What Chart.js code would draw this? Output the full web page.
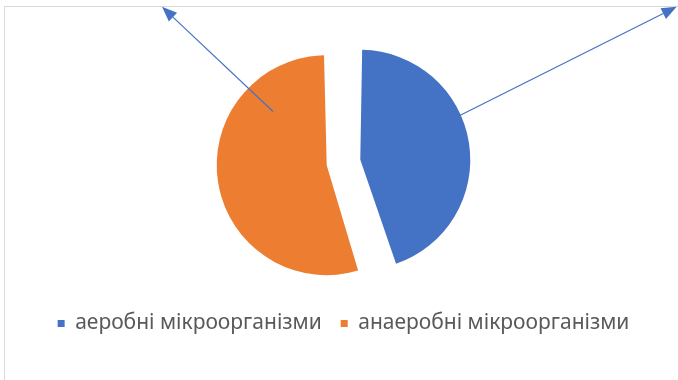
<!DOCTYPE html>
<html>
<head>
<meta charset="utf-8">
<script src="https://cdn.jsdelivr.net/npm/chart.js@4"></script>
<style>
  html, body { margin: 0; padding: 0; background: #fff; }
  #wrap { position: relative; width: 678px; height: 380px; overflow: hidden; }
  #frame { position: absolute; left: 4px; top: 6px; width: 700px; height: 400px;
           border-top: 1px solid #d9d9d9; border-left: 1px solid #d9d9d9; }
  #chart { position: absolute; left: 0; top: 0; }
</style>
</head>
<body>
<div id="wrap">
  <div id="frame"></div>
  <canvas id="chart" width="678" height="380"></canvas>
</div>
<script>
// Data
const labels = ['аеробні мікроорганізми', 'анаеробні мікроорганізми'];
const values = [45, 55];
const colors = ['#4472C4', '#ED7D31'];

// leader arrows (label boxes sit outside the plot, only the arrows remain)
// anchor: angle (deg, canvas) and distance as share of radius from slice vertex
// target: share of canvas width/height
const arrowAnchorAngle = [-24, -135];
const arrowAnchorDist = [0.99, 0.69];
const arrowTargetX = [0.998, 0.239];
const arrowTargetY = [0.018, 0.018];

const PIE_RADIUS = 110;
const EXPLODE = 68; // chart.js moves each slice by offset/4

// keep both slices at same radius (chart.js grows the smaller one by offset)
const evenRadius = {
    id: 'evenRadius',
    beforeDatasetDraw(chart) {
        chart.getDatasetMeta(0).data.forEach(el => {
            const off = (el.options.offset || 0) / 4;
            const fix = 1 - Math.sin(Math.min(Math.PI, el.circumference));
            el.outerRadius = PIE_RADIUS - off * fix;
        });
    }
};

const arrows = {
    id: 'arrows',
    afterDraw(chart) {
        const ctx = chart.ctx;
        const meta = chart.getDatasetMeta(0);
        meta.data.forEach((el, i) => {
            const off = (el.options.offset || 0) / 4;
            const half = (el.startAngle + el.endAngle) / 2;
            const vx = el.x + Math.cos(half) * off;
            const vy = el.y + Math.sin(half) * off;
            const a = arrowAnchorAngle[i] * Math.PI / 180;
            const sx = vx + Math.cos(a) * PIE_RADIUS * arrowAnchorDist[i];
            const sy = vy + Math.sin(a) * PIE_RADIUS * arrowAnchorDist[i];
            const tx = chart.width * arrowTargetX[i];
            const ty = chart.height * arrowTargetY[i];
            const ang = Math.atan2(ty - sy, tx - sx);
            const len = 15, wid = 6;
            const bx = tx - Math.cos(ang) * len;
            const by = ty - Math.sin(ang) * len;

            ctx.save();
            ctx.strokeStyle = '#4472C4';
            ctx.fillStyle = '#4472C4';
            ctx.lineWidth = 1.2;
            ctx.beginPath();
            ctx.moveTo(sx, sy);
            ctx.lineTo(bx, by);
            ctx.stroke();
            ctx.beginPath();
            ctx.moveTo(tx, ty);
            ctx.lineTo(bx + Math.sin(ang) * wid, by - Math.cos(ang) * wid);
            ctx.lineTo(bx - Math.sin(ang) * wid, by + Math.cos(ang) * wid);
            ctx.closePath();
            ctx.fill();
            ctx.restore();
        });
    }
};

new Chart(document.getElementById('chart'), {
    type: 'pie',
    data: {
        labels: labels,
        datasets: [{
            data: values,
            backgroundColor: colors,
            borderWidth: 0,
            offset: EXPLODE,
            hoverOffset: 0
        }]
    },
    options: {
        responsive: false,
        animation: false,
        radius: PIE_RADIUS,
        layout: { padding: { left: 9, right: 0, top: 31, bottom: 36 } },
        plugins: {
            tooltip: { enabled: false },
            legend: {
                position: 'bottom',
                labels: {
                    boxWidth: 7,
                    boxHeight: 7,
                    padding: 19,
                    color: '#595959',
                    font: { family: 'Noto Sans', size: 21 }
                }
            }
        }
    },
    plugins: [evenRadius, arrows]
});
</script>
</body>
</html>
